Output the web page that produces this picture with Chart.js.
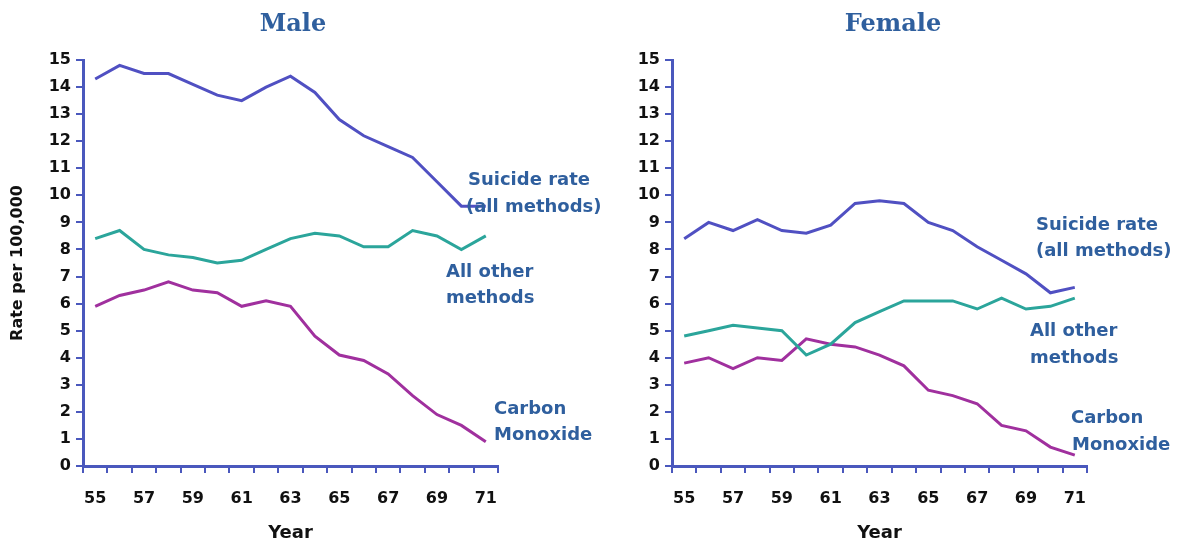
<!DOCTYPE html>
<html>
<head>
<meta charset="utf-8">
<script src="https://cdn.jsdelivr.net/npm/chart.js@4"></script>
<style>
  body { margin: 0; background: #fff; }
  #wrap { position: relative; width: 1178px; height: 546px; background: #fff; }
  canvas { position: absolute; top: 0; }
</style>
</head>
<body>
<div id="wrap">
  <canvas id="male" width="640" height="546" style="left:0"></canvas>
  <canvas id="female" width="589" height="546" style="left:589px"></canvas>
</div>
<script>
// data
const years = ['55', '56', '57', '58', '59', '60', '61', '62', '63', '64', '65', '66', '67', '68', '69', '70', '71'];

const maleSuicide = [14.3, 14.8, 14.5, 14.5, 14.1, 13.7, 13.5, 14.0, 14.4, 13.8, 12.8, 12.2, 11.8, 11.4, 10.5, 9.6, 9.6];
const maleOther = [8.4, 8.7, 8.0, 7.8, 7.7, 7.5, 7.6, 8.0, 8.4, 8.6, 8.5, 8.1, 8.1, 8.7, 8.5, 8.0, 8.5];
const maleCO = [5.9, 6.3, 6.5, 6.8, 6.5, 6.4, 5.9, 6.1, 5.9, 4.8, 4.1, 3.9, 3.4, 2.6, 1.9, 1.5, 0.9];

const femaleSuicide = [8.4, 9.0, 8.7, 9.1, 8.7, 8.6, 8.9, 9.7, 9.8, 9.7, 9.0, 8.7, 8.1, 7.6, 7.1, 6.4, 6.6];
const femaleOther = [4.8, 5.0, 5.2, 5.1, 5.0, 4.1, 4.5, 5.3, 5.7, 6.1, 6.1, 6.1, 5.8, 6.2, 5.8, 5.9, 6.2];
const femaleCO = [3.8, 4.0, 3.6, 4.0, 3.9, 4.7, 4.5, 4.4, 4.1, 3.7, 2.8, 2.6, 2.3, 1.5, 1.3, 0.7, 0.4];

const axisColor = '#4a58bd';
const labelColor = '#2f5f9e';
const tickFont = { family: 'DejaVu Sans', size: 16, weight: 'bold' };

// draws the panel title and the line labels next to the lines
const textPlugin = {
  id: 'panelText',
  afterDraw(chart, args, opts) {
    const ctx = chart.ctx;
    ctx.save();
    ctx.fillStyle = labelColor;
    ctx.textAlign = 'center';
    ctx.textBaseline = 'middle';
    ctx.font = 'bold 24px "DejaVu Serif"';
    ctx.fillText(opts.title, opts.titleX, 25);

    ctx.textAlign = 'left';
    ctx.font = 'bold 18px "DejaVu Sans"';
    opts.notes.forEach(n => ctx.fillText(n[0], n[1], n[2]));
    ctx.restore();
  }
};

function makeChart(id, title, titleX, padRight, suicide, other, co, notes) {
  const ctx = document.getElementById(id).getContext('2d');
  return new Chart(ctx, {
    type: 'line',
    data: {
      labels: years,
      datasets: [
        { data: suicide, borderColor: '#5050c2' },
        { data: other, borderColor: '#2ba59b' },
        { data: co, borderColor: '#a0309e' }
      ]
    },
    options: {
      responsive: false,
      animation: false,
      layout: { padding: { left: 0, right: padRight, top: 60, bottom: 0 } },
      elements: {
        point: { radius: 0 },
        line: { borderWidth: 3, tension: 0 }
      },
      plugins: {
        legend: { display: false },
        tooltip: { enabled: false },
        panelText: { title: title, titleX: titleX, notes: notes }
      },
      scales: {
        x: {
          offset: true,
          grid: { offset: true, drawOnChartArea: false, color: axisColor, tickLength: 7, lineWidth: 2 },
          border: { color: axisColor, width: 3 },
          ticks: {
            autoSkip: false, maxRotation: 0, padding: 16,
            color: '#111', font: tickFont,
            callback: (v, i) => (i % 2 === 0 ? years[i] : '')
          },
          title: {
            display: true, text: 'Year', color: '#111',
            font: { family: 'DejaVu Sans', size: 18, weight: 'bold' },
            padding: { top: 0, bottom: 2 }
          },
          afterFit: s => { s.height = 80; }
        },
        y: {
          min: 0, max: 15,
          grid: { drawOnChartArea: false, color: axisColor, tickLength: 7, lineWidth: 2 },
          border: { color: axisColor, width: 3 },
          ticks: { stepSize: 1, padding: 5, color: '#111', font: tickFont },
          title: {
            display: id === 'male', text: 'Rate per 100,000', color: '#111',
            font: { family: 'DejaVu Sans', size: 16, weight: 'bold' },
            padding: { top: 8, bottom: 0 }
          },
          afterFit: s => { s.width = 83; }
        }
      }
    },
    plugins: [textPlugin]
  });
}

makeChart('male', 'Male', 293, 142, maleSuicide, maleOther, maleCO, [
  ['Suicide rate', 468, 180],
  ['(all methods)', 466, 207],
  ['All other', 446, 272],
  ['methods', 446, 298],
  ['Carbon', 494, 409],
  ['Monoxide', 494, 435]
]);

makeChart('female', 'Female', 304, 91, femaleSuicide, femaleOther, femaleCO, [
  ['Suicide rate', 447, 225],
  ['(all methods)', 447, 251],
  ['All other', 441, 331],
  ['methods', 441, 358],
  ['Carbon', 482, 418],
  ['Monoxide', 483, 445]
]);
</script>
</body>
</html>
